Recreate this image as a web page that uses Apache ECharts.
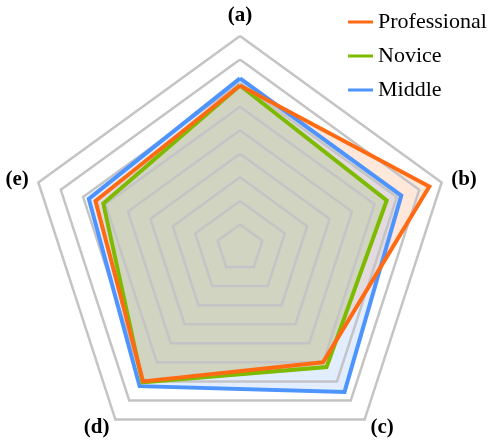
<!DOCTYPE html>
<html>
<head>
<meta charset="utf-8">
<script src="https://cdn.jsdelivr.net/npm/echarts@6/dist/echarts.min.js"></script>
<style>
  html, body { margin: 0; padding: 0; background: #fff; }
  #chart { width: 498px; height: 443px; }
</style>
</head>
<body>
<div id="chart"></div>
<script>
// indicator names and values (scale 0..9, one ring per unit), listed clockwise from the top
var indicators = ['(a)', '(b)', '(c)', '(d)', '(e)'];
var professional = [6.9, 8.45, 6.0, 7.0, 6.45];
var novice = [6.9, 6.55, 6.25, 7.05, 6.1];
var middle = [7.2, 7.2, 7.55, 7.25, 6.75];
var names = ['Professional', 'Novice', 'Middle'];
var colors = { Professional: '#ff6a13', Novice: '#7dba00', Middle: '#4d94ff' };
var values = { Professional: professional, Novice: novice, Middle: middle };

var serif = 'Liberation Serif';

// echarts lays the radar axes out counter-clockwise, so flip the order after the first one
var order = [0, 4, 3, 2, 1];
function flip(arr) { return order.map(function (i) { return arr[i]; }); }

var chart = echarts.init(document.getElementById('chart'));

function items(list, withArea) {
    return list.map(function (n) {
        return {
            name: n,
            value: flip(values[n]),
            itemStyle: { color: colors[n] },
            lineStyle: withArea ? { width: 0, opacity: 0 } : { width: 4, color: colors[n], join: 'miter' },
            areaStyle: withArea ? { color: colors[n], opacity: 0.16 } : { opacity: 0 }
        };
    });
}

chart.setOption({
    backgroundColor: '#fff',
    animation: false,
    textStyle: { fontFamily: serif },
    legend: {
        data: names,
        orient: 'vertical',
        left: 343,
        top: 6,
        itemWidth: 25,
        itemHeight: 3,
        itemGap: 12,
        icon: 'rect',
        textStyle: { fontFamily: serif, fontSize: 22, color: '#000' }
    },
    radar: {
        z: 2,
        center: [240, 248],
        radius: 212,
        startAngle: 90,
        shape: 'polygon',
        splitNumber: 9,
        nameGap: 10,
        indicator: flip(indicators).map(function (n) { return { name: n, min: 0, max: 9 }; }),
        axisName: { color: '#000', fontFamily: serif, fontSize: 21, fontWeight: 'bold' },
        axisLine: { show: false },
        axisTick: { show: false },
        axisLabel: { show: false },
        splitArea: { show: false },
        splitLine: { lineStyle: { color: '#c4c4c6', width: 2.5 } }
    },
    series: [
        {
            // filled areas, under the rings
            type: 'radar',
            z: 1,
            symbol: 'none',
            silent: true,
            data: items(['Professional', 'Novice', 'Middle'], true)
        },
        {
            // outlines, over the rings
            type: 'radar',
            z: 3,
            symbol: 'none',
            data: items(['Middle', 'Novice', 'Professional'], false)
        }
    ]
});
</script>
</body>
</html>
